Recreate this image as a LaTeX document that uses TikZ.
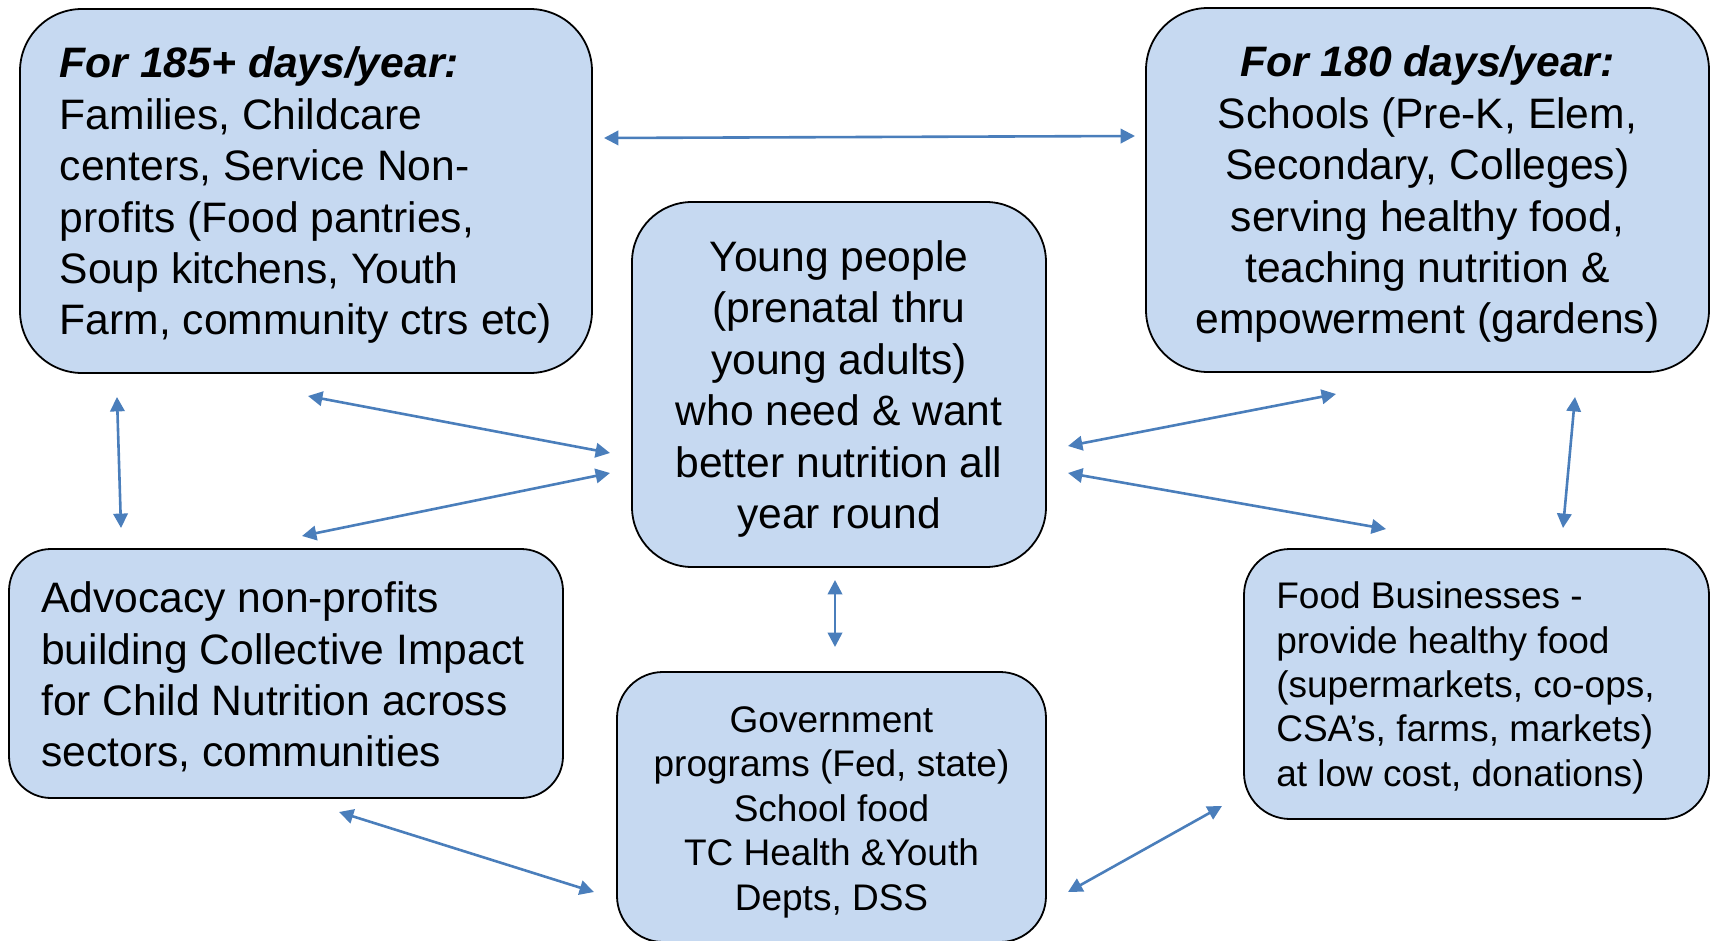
\documentclass[tikz,border=0pt]{standalone}
\usepackage{fontspec}
\setmainfont{Liberation Sans}
\usetikzlibrary{arrows.meta}
\definecolor{boxfill}{RGB}{198,217,241}
\definecolor{linkblue}{RGB}{74,126,187}
\begin{document}
\begin{tikzpicture}[
    x=0.5pt, y=-0.5pt,
    box/.style={draw, fill=boxfill, line width=0.9pt, inner sep=0pt},
    boxtext/.style={inner sep=0pt, font=\fontsize{21.3}{25.7}\selectfont},
    small/.style={font=\fontsize{18.5}{22.2}\selectfont},
    link/.style={<->, draw=linkblue, line width=1.3pt},
    >={Triangle[length=7.2pt,width=7.2pt]}
]
\useasboundingbox (0,0) rectangle (1714,941);

% boxes
\node[box, rounded corners=31pt, minimum width=286pt, minimum height=182pt] (fam) at (306,191) {};
\node[box, rounded corners=31pt, minimum width=281.5pt, minimum height=182pt] (school) at (1427.5,190) {};
\node[box, rounded corners=30pt, minimum width=207pt, minimum height=182.5pt] (youth) at (839,384.5) {};
\node[box, rounded corners=21pt, minimum width=277pt, minimum height=124.5pt] (advo) at (286,673.5) {};
\node[box, rounded corners=23pt, minimum width=214.5pt, minimum height=135pt] (gov) at (831.5,807) {};
\node[box, rounded corners=23pt, minimum width=232.5pt, minimum height=135pt] (biz) at (1476.5,684) {};

% texts
\node[boxtext, align=left] (fam-t) at ([yshift=-2.2pt]fam.center)
    {\textbf{\textit{For 185+ days/year:}}\\Families, Childcare\\centers, Service Non-\\profits (Food pantries,\\Soup kitchens, Youth\\Farm, community ctrs etc)};
\node[boxtext, align=center] (school-t) at ([yshift=-2.2pt]school.center)
    {\textbf{\textit{For 180 days/year:}}\\Schools (Pre-K, Elem,\\Secondary, Colleges)\\serving healthy food,\\teaching nutrition \&\\empowerment (gardens)};
\node[boxtext, align=center] (youth-t) at ([yshift=-2.2pt]youth.center)
    {Young people\\(prenatal thru\\young adults)\\who need \& want\\better nutrition all\\year round};
\node[boxtext, align=left] (advo-t) at ([xshift=-1.6pt, yshift=-1.8pt]advo.center)
    {Advocacy non-profits\\building Collective Impact\\for Child Nutrition across\\sectors, communities};
\node[boxtext, small, align=center] (gov-t) at ([yshift=-2.6pt]gov.center)
    {Government\\programs (Fed, state)\\School food\\TC Health \&Youth\\Depts, DSS};
\node[boxtext, small, align=left] (biz-t) at ([xshift=-5.5pt, yshift=-2pt]biz.center)
    {Food Businesses -\\provide healthy food\\(supermarkets, co-ops,\\CSA’s, farms, markets)\\at low cost, donations)};

% free ends of the links
\coordinate (fs-a) at (604,138);   \coordinate (fs-b) at (1135,136);
\coordinate (fy-a) at (308,396);   \coordinate (fy-b) at (610,453);
\coordinate (ay-a) at (302,536);   \coordinate (ay-b) at (610,473);
\coordinate (fa-a) at (117,397);   \coordinate (fa-b) at (121,528);
\coordinate (ys-a) at (1068,446);  \coordinate (ys-b) at (1336,394);
\coordinate (yb-a) at (1068,473);  \coordinate (yb-b) at (1386,529);
\coordinate (sb-a) at (1575,397);  \coordinate (sb-b) at (1563,528);
\coordinate (yg-a) at (835,580);   \coordinate (yg-b) at (835,647);
\coordinate (ag-a) at (339,812);   \coordinate (ag-b) at (594,892);
\coordinate (gb-a) at (1068,892);  \coordinate (gb-b) at (1222,806);

\draw[link] (fs-a) -- (fs-b);
\draw[link] (fy-a) -- (fy-b);
\draw[link] (ay-a) -- (ay-b);
\draw[link] (fa-a) -- (fa-b);
\draw[link] (ys-a) -- (ys-b);
\draw[link] (yb-a) -- (yb-b);
\draw[link] (sb-a) -- (sb-b);
\draw[link] (yg-a) -- (yg-b);
\draw[link] (ag-a) -- (ag-b);
\draw[link] (gb-a) -- (gb-b);
\end{tikzpicture}
\end{document}
